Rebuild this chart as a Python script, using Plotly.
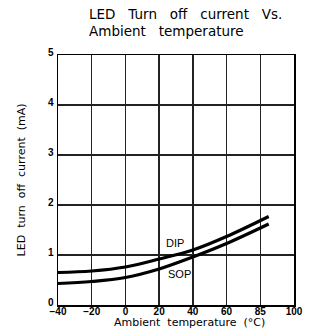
import plotly.graph_objects as go

temps = [-40, -20, 0, 20, 40, 60, 85]
dip = [0.65, 0.68, 0.76, 0.92, 1.10, 1.37, 1.77]
sop = [0.43, 0.47, 0.55, 0.72, 0.96, 1.23, 1.62]
x_tickvals = [-40, -20, 0, 20, 40, 60, 80, 100]
x_ticktext = ["−40", "−20", "0", "20", "40", "60", "85", "100"]
y_tickvals = [0, 1, 2, 3, 4, 5]
title_lines = ["LED\u00a0\u00a0\u00a0Turn\u00a0\u00a0\u00a0off\u00a0\u00a0\u00a0current\u00a0\u00a0\u00a0Vs.",
               "Ambient\u00a0\u00a0\u00a0temperature"]

FONT = "Liberation Sans"
fig = go.Figure()
for name, ys in [("DIP", dip), ("SOP", sop)]:
    fig.add_trace(go.Scatter(x=temps, y=ys, mode="lines", name=name,
                             line=dict(color="black", width=3.2, shape="spline"),
                             showlegend=False, hoverinfo="skip"))

fig.add_annotation(x=23, y=1.24, text="DIP", showarrow=False, xref="x", yref="y",
                   xanchor="left", yanchor="middle",
                   font=dict(family=FONT, size=11, color="black"))
fig.add_annotation(x=24, y=0.62, text="SOP", showarrow=False, xref="x", yref="y",
                   xanchor="left", yanchor="middle",
                   font=dict(family=FONT, size=11, color="black"))

for line, ypix in zip(title_lines, [14, 31]):
    fig.add_annotation(text=line, xref="paper", yref="paper",
                       x=(88 - 58) / 245, y=1 + (55 - ypix) / 250,
                       xanchor="left", yanchor="middle", align="left", showarrow=False,
                       font=dict(family="DejaVu Sans", size=13.5, color="black"))

# axis titles
fig.add_annotation(text="Ambient\u00a0\u00a0temperature\u00a0\u00a0(°C)",
                   xref="paper", yref="paper", x=(194 - 58) / 245, y=-(322 - 305) / 250,
                   xanchor="center", yanchor="middle", showarrow=False,
                   font=dict(family="DejaVu Sans", size=11, color="black"))
fig.add_annotation(text="LED\u00a0\u00a0turn\u00a0\u00a0off\u00a0\u00a0current\u00a0\u00a0(mA)",
                   xref="paper", yref="paper", x=-(58 - 20) / 245, y=0.5, textangle=-90,
                   xanchor="center", yanchor="middle", showarrow=False,
                   font=dict(family="DejaVu Sans", size=11, color="black"))

axis_common = dict(showline=True, linecolor="black", linewidth=1.5, mirror=True,
                   showgrid=True, gridcolor="#222", gridwidth=1.3, zeroline=False,
                   ticks="", tickfont=dict(family=FONT, size=10, color="black", weight="bold"))
fig.update_xaxes(range=[-40, 100], tickvals=x_tickvals, ticktext=x_ticktext,
                 ticklabelstandoff=-4, **axis_common)
fig.update_yaxes(range=[0, 5], tickvals=y_tickvals, ticklabelstandoff=1,
                 ticklabelshift=-3, **axis_common)
fig.update_layout(width=312, height=332, margin=dict(l=58, r=9, t=55, b=27),
                  plot_bgcolor="white", paper_bgcolor="white", hovermode=False)
fig.write_html("out.html", post_script="document.body.style.margin='0';",
               config={"displayModeBar": False, "staticPlot": True})
